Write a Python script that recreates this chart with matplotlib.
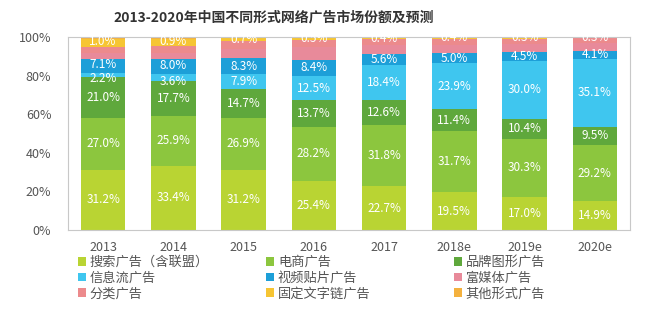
import matplotlib.pyplot as plt
from matplotlib.patches import Patch
import numpy as np

plt.rcParams['font.family'] = ['Noto Sans CJK SC', 'DejaVu Sans']

years = ['2013', '2014', '2015', '2016', '2017', '2018e', '2019e', '2020e']

# market share (%) by ad format, bottom to top of each bar
search = [31.2, 33.4, 31.2, 25.4, 22.7, 19.5, 17.0, 14.9]
ecommerce = [27.0, 25.9, 26.9, 28.2, 31.8, 31.7, 30.3, 29.2]
brand = [21.0, 17.7, 14.7, 13.7, 12.6, 11.4, 10.4, 9.5]
feed = [2.2, 3.6, 7.9, 12.5, 18.4, 23.9, 30.0, 35.1]
video = [7.1, 8.0, 8.3, 8.4, 5.6, 5.0, 4.5, 4.1]
rich_media = [3.0, 3.2, 5.0, 6.5, 4.5, 4.5, 4.2, 4.0]
classified = [3.5, 3.5, 3.8, 4.0, 3.2, 3.0, 2.8, 2.5]
text_link = [4.0, 3.8, 1.5, 0.8, 0.8, 0.6, 0.5, 0.4]
other = [1.0, 0.9, 0.7, 0.5, 0.4, 0.4, 0.3, 0.3]

names = ['搜索广告（含联盟）', '电商广告', '品牌图形广告',
         '信息流广告', '视频贴片广告', '富媒体广告',
         '分类广告', '固定文字链广告', '其他形式广告']
series = [search, ecommerce, brand, feed, video,
          rich_media, classified, text_link, other]
colors = ['#b9d433', '#8cc63e', '#5fa83c', '#3fc6ef', '#1d9fd8',
          '#e88a9a', '#ec8a8c', '#f6c533', '#f4b13e']
labeled = [0, 1, 2, 3, 4, 8]

fig = plt.figure(figsize=(6.72, 3.29), dpi=100)
ax = fig.add_axes([68 / 672, 1 - 230 / 329, 562 / 672, 193 / 329])

x = np.arange(len(years))
bottom = np.zeros(len(years))
for i, (vals, c) in enumerate(zip(series, colors)):
    vals = np.array(vals)
    ax.bar(x, vals, width=0.63, bottom=bottom, color=c, linewidth=0)
    if i in labeled:
        for xi, b, v in zip(x, bottom, vals):
            if i == 8:
                # small top segment: label sits in the middle of the top band
                yc = (b - text_link[xi] + 100) / 2
            else:
                yc = b + v / 2
            if i == 3 and v < 5:
                yc -= 1.6   # thin feed segment: push label below the video one
            elif i == 4 and feed[xi] < 5:
                yc += 0.6
            ax.text(xi, yc, f'{v:.1f}%', ha='center', va='center',
                    color='white', fontsize=8.5)
    bottom += vals

ax.set_xlim(-0.5, 7.5)
ax.set_ylim(0, 100)
ax.set_yticks(range(0, 101, 20))
ax.set_yticklabels([f'{v}%' for v in range(0, 101, 20)])
ax.set_xticks(x)
ax.set_xticklabels(years)
ax.tick_params(length=0, colors='#555555', labelsize=9)
ax.tick_params(axis='x', pad=8)
ax.tick_params(axis='y', pad=12)
for s in ax.spines.values():
    s.set_color('#c8c8c8')
    s.set_linewidth(0.8)

fig.text(274 / 672, 1 - 17 / 329, '2013-2020年中国不同形式网络广告市场份额及预测',
         ha='center', va='center', fontsize=10, fontweight='bold', color='#333333')

# legend laid out as three columns, filled row by row
col_x = [78, 266, 454]
for col in range(3):
    handles = [Patch(facecolor=colors[r * 3 + col], label=names[r * 3 + col])
               for r in range(3)]
    fig.legend(handles=handles, loc='upper left',
               bbox_to_anchor=(col_x[col] / 672, 1 - 256 / 329),
               frameon=False, fontsize=9.5, handlelength=0.6, handleheight=0.6,
               handletextpad=0.3, labelspacing=0.2, borderaxespad=0,
               borderpad=0, labelcolor='#555555')

fig.savefig('out.png', dpi=100)
